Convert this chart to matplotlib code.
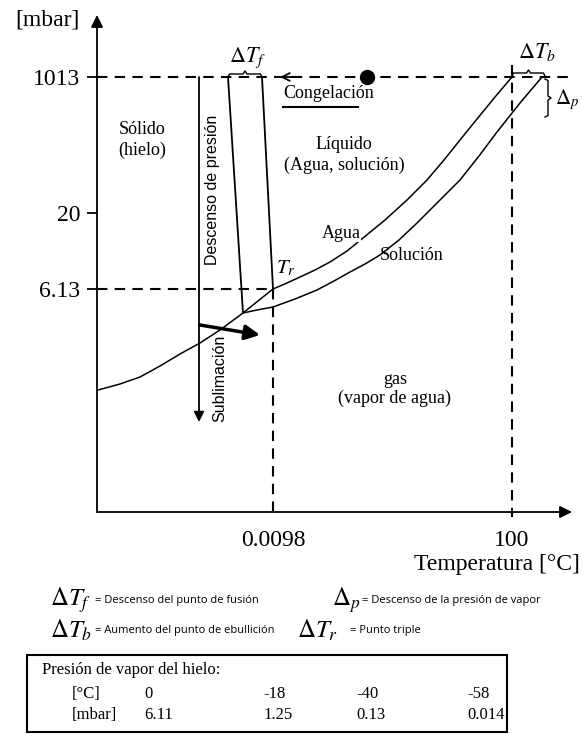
import numpy as np
import matplotlib.pyplot as plt
from matplotlib.patches import Rectangle

plt.rcParams['font.family'] = ['Liberation Serif', 'DejaVu Serif']
plt.rcParams['mathtext.fontset'] = 'stix'

# schematic units (diagram is not to scale)
p_ticks = [435, 299, 223]
p_labels = ['1013', '20', '6.13']
t_ticks = [176, 415]
t_labels = ['0.0098', '100']

# hielo -> vapor (sublimacion)
subl_t = [1, 23, 43, 63, 83, 103, 123, 146, 161, 176]
subl_p = [122, 128, 135, 146, 158, 169, 182, 199, 211, 223]
# agua pura liquido -> vapor
agua_t = [176, 190, 203, 218, 233, 250, 266, 288, 310, 330, 347, 363, 380, 398, 415]
agua_p = [223, 229, 235, 242, 250, 261, 274, 292, 312, 332, 352, 372, 393, 415, 435]
# solucion liquido -> vapor
sol_t = [146, 160, 176, 198, 220, 237, 253, 268, 283, 302, 320, 340, 363, 382, 400, 423, 445]
sol_p = [199, 202, 205, 213, 222, 231, 240, 248, 257, 272, 289, 309, 332, 356, 380, 409, 435]
# curvas de fusion
fus_agua_t = [165, 176]
fus_agua_p = [435, 223]
fus_sol_t = [131, 146]
fus_sol_p = [435, 199]

# tabla: presion de vapor del hielo
hielo_c = ['0', '-18', '-40', '-58']
hielo_mbar = ['6.11', '1.25', '0.13', '0.014']

W, H = 582, 734
fig = plt.figure(figsize=(W / 100, H / 100), dpi=100)
ax = fig.add_axes([97 / W, (H - 512) / H, 475 / W, 497 / H])
ax.set_xlim(0, 475)
ax.set_ylim(0, 497)
for s in ax.spines.values():
    s.set_visible(False)

# ejes con flechas
arr = dict(arrowstyle='-|>', lw=1.3, color='k', mutation_scale=18, shrinkA=0, shrinkB=0)
ax.annotate('', xy=(0, 1), xytext=(0, 0), xycoords='axes fraction', arrowprops=arr)
ax.annotate('', xy=(1, 0), xytext=(0, 0), xycoords='axes fraction', arrowprops=arr)

ax.set_yticks(p_ticks, p_labels)
ax.set_xticks(t_ticks, t_labels)
ax.tick_params(axis='y', length=7, width=1.3, pad=5, labelsize=17)
ax.tick_params(axis='x', length=0, pad=13, labelsize=17)

ax.set_xlabel('Temperatura [°C]', fontsize=17)
ax.xaxis.set_label_coords(1.017, -0.105)
ax.xaxis.label.set_ha('right')
ax.xaxis.label.set_va('center')
ax.set_ylabel('[mbar]', fontsize=17, rotation=0)
ax.yaxis.set_label_coords(-0.036, 0.99)
ax.yaxis.label.set_ha('right')
ax.yaxis.label.set_va('center')

# lineas auxiliares discontinuas
dash = dict(color='k', lw=1.5, ls=(0, (5, 3.5)), clip_on=False)
ax.plot([0, 478], [p_ticks[0], p_ticks[0]], **dash)
ax.plot([0, t_ticks[0]], [p_ticks[2], p_ticks[2]], **dash)
ax.plot([t_ticks[0], t_ticks[0]], [p_ticks[2], -5], **dash)
ax.plot([t_ticks[1], t_ticks[1]], [447, -5], **dash)

# curvas de equilibrio
ax.plot(subl_t, subl_p, color='k', lw=1.1)
ax.plot(agua_t, agua_p, color='k', lw=1.1)
ax.plot(sol_t, sol_p, color='k', lw=1.1)
ax.plot(fus_agua_t, fus_agua_p, color='k', lw=1.3)
ax.plot(fus_sol_t, fus_sol_p, color='k', lw=1.3)

# flechas
ax.annotate('', xy=(102, 90), xytext=(102, 435),
            arrowprops=dict(arrowstyle='-|>', lw=1.3, color='k', mutation_scale=15, shrinkA=0, shrinkB=0))
ax.annotate('', xy=(163, 177), xytext=(103, 187),
            arrowprops=dict(arrowstyle='-|>', lw=2.5, color='k', mutation_scale=22, shrinkA=0, shrinkB=0))
ax.annotate('', xy=(183, 435), xytext=(196, 435),
            arrowprops=dict(arrowstyle='->', lw=1.3, color='k', mutation_scale=14, shrinkA=0, shrinkB=0))
ax.plot(270, 435, 'o', ms=10, color='k')


def hbrace(x0, x1, y, h):
    xm = (x0 + x1) / 2
    ax.plot([x0, x0 + 1.5, xm - 2, xm, xm + 2, x1 - 1.5, x1],
            [y - h, y, y, y + h, y, y, y - h], color='k', lw=1)


def vbrace(x, y0, y1, h):
    ym = (y0 + y1) / 2
    ax.plot([x - h, x, x, x + h, x, x, x - h],
            [y0, y0 - 1.5, ym + 2, ym, ym - 2, y1 + 1.5, y1], color='k', lw=1, clip_on=False)


hbrace(131, 165, 438, 3)
hbrace(415, 448, 439, 3)
vbrace(451, 433, 395, 3)

# textos del diagrama
ax.text(151, 454, r'$\Delta T_f$', fontsize=16, ha='center', va='center')
ax.text(440, 460, r'$\Delta T_b$', fontsize=16, ha='center', va='center')
ax.text(458, 412, r'$\Delta_p$', fontsize=15, ha='left', va='center', clip_on=False)
ax.text(179, 244, r'$T_r$', fontsize=15, ha='left', va='center')
ax.text(45, 372, 'Sólido\n(hielo)', fontsize=13, ha='center', va='center', linespacing=1.3)
ax.text(186, 419, 'Congelación', fontsize=13, ha='left', va='center')
ax.plot([186, 261], [405, 405], color='k', lw=1.5)
ax.text(247, 357, 'Líquido\n(Agua, solución)', fontsize=13, ha='center', va='center', linespacing=1.3)
ax.text(244, 279, 'Agua', fontsize=13, ha='center', va='center',
        bbox=dict(fc='white', ec='none', pad=0.3))
ax.text(283, 257, 'Solución', fontsize=13, ha='left', va='center')
ax.text(298, 123, 'gas\n(vapor de agua)', fontsize=13, ha='center', va='center', linespacing=1.2)
ax.text(116, 322, 'Descenso de presión', rotation=90, ha='center', va='center',
        family='Liberation Sans', fontsize=11.5)
ax.text(123, 134, 'Sublimación', rotation=90, ha='center', va='center',
        family='Liberation Sans', fontsize=11.5)


def ftext(xp, yp, s, **kw):
    fig.text(xp / W, 1 - yp / H, s, va='center', **kw)


# leyenda de simbolos
small = dict(family='Open Sans', fontsize=8)
ftext(50, 600, r'$\Delta T_f$', fontsize=18)
ftext(95, 601, '= Descenso del punto de fusión', **small)
ftext(332, 600, r'$\Delta_p$', fontsize=18)
ftext(362, 601, '= Descenso de la presión de vapor', **small)
ftext(50, 630, r'$\Delta T_b$', fontsize=18)
ftext(95, 631, '= Aumento del punto de ebullición', **small)
ftext(297, 630, r'$\Delta T_r$', fontsize=18)
ftext(350, 631, '= Punto triple', **small)

# tabla
fig.add_artist(Rectangle((27 / W, 1 - 732 / H), 480 / W, 77 / H, transform=fig.transFigure,
                         fill=False, lw=1.5, color='k'))
ftext(42, 670, 'Presión de vapor del hielo:', fontsize=12)
ftext(72, 694, '[°C]', fontsize=12)
ftext(72, 715, '[mbar]', fontsize=12)
col_x = [144, 263, 356, 467]
for cx, c, m in zip(col_x, hielo_c, hielo_mbar):
    ftext(cx, 694, c, fontsize=12)
    ftext(cx, 715, m, fontsize=12)

fig.savefig('out.png', dpi=100)
